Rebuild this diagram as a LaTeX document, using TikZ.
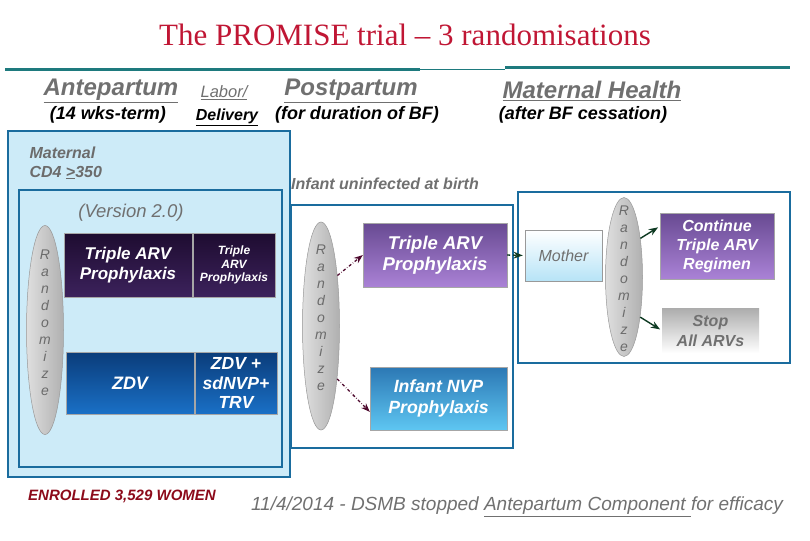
\documentclass[tikz,border=0pt]{standalone}
\usepackage{fontspec}
\setmainfont{Liberation Sans}
\newfontfamily\titlefont{Liberation Serif}
\usepackage{xcolor}
\usetikzlibrary{arrows.meta,positioning,shapes.geometric}
\definecolor{titlered}{RGB}{192,22,52}
\definecolor{tealline}{RGB}{30,122,126}
\definecolor{hdgray}{RGB}{112,112,112}
\definecolor{frameblue}{RGB}{26,108,158}
\definecolor{paleblue}{RGB}{205,235,248}
\definecolor{darkpurpA}{RGB}{30,12,48}
\definecolor{darkpurpB}{RGB}{60,34,92}
\definecolor{navyA}{RGB}{10,60,122}
\definecolor{navyB}{RGB}{26,112,198}
\definecolor{purpA}{RGB}{104,74,146}
\definecolor{purpB}{RGB}{170,130,214}
\definecolor{skyA}{RGB}{44,120,180}
\definecolor{skyB}{RGB}{94,198,242}
\definecolor{maroon}{RGB}{78,10,46}
\definecolor{darkgreen}{RGB}{14,58,34}
\definecolor{enrolred}{RGB}{140,10,26}
\newcommand\fsz[2]{\fontsize{#1}{#2}\selectfont}

\begin{document}
\begin{tikzpicture}[x=1pt,y=-1pt,>=Stealth,
  frame/.style={draw=frameblue,line width=2.6pt,inner sep=0pt},
  hdr/.style={text=hdgray,font=\fsz{24}{26}\bfseries\itshape},
  sub/.style={text=black,font=\fsz{18}{20}\bfseries\itshape},
  note/.style={text=hdgray,font=\fsz{16}{19}\bfseries\itshape,align=left},
  cell/.style={draw=gray!70,line width=0.4pt,text=white,align=center,inner sep=0pt,font=\bfseries\itshape},
  randnode/.style={ellipse,draw=gray!80,line width=0.5pt,left color=gray!25,right color=gray!62,
    inner sep=0pt,minimum width=37pt},
  randtext/.style={text=black!58,align=center,inner sep=0pt,font=\fsz{14}{17}\itshape},
  randarrow/.style={->,maroon,dash dot,line width=1.3pt},
  fwdarrow/.style={->,darkgreen,line width=1.4pt,shorten >=2pt}]
  \useasboundingbox (0,0) rectangle (810,540);

  % title and time line
  \node[text=titlered,font=\titlefont\fsz{31}{33}] (title) at (405,35) {The PROMISE trial – 3 randomisations};
  \draw[tealline,line width=3pt] (5,70) -- (420,70);
  \draw[tealline,line width=1.5pt] (420,69.5) -- (505,69.5);
  \draw[tealline,line width=3pt] (505,68) -- (790,68);

  % phase headings
  \node[hdr] (ante) at (111,91) {\underline{Antepartum}};
  \node[text=hdgray,font=\fsz{16.5}{18}\itshape] (labor) at (224,93) {\underline{Labor/}};
  \node[hdr] (post) at (351,91) {\underline{Postpartum}};
  \node[hdr] (mhealth) at (592,91) {\underline{Maternal Health}};
  \node[sub] (antesub) at (108,115) {(14 wks-term)};
  \node[sub,font=\fsz{16}{18}\bfseries\itshape] (deliv) at (227,117) {\underline{Delivery}};
  \node[sub] (postsub) at (357,115) {(for duration of BF)};
  \node[sub] (mhsub) at (583,115) {(after BF cessation)};

  % frames
  \node[frame,fill=paleblue,minimum width=282pt,minimum height=346pt] (antebox) at (149,304) {};
  \node[frame,fill=paleblue,minimum width=263pt,minimum height=277pt] (versbox) at (150.5,328.5) {};
  \node[frame,fill=white,minimum width=222pt,minimum height=243pt] (postbox) at (402,326.5) {};
  \node[frame,fill=white,minimum width=272pt,minimum height=171pt] (mhbox) at (654,277.5) {};

  \node[note,text=gray!85!black,anchor=west] (cd4) at (26,163) {Maternal\\CD4 \underline{>}350};
  \node[note] (uninf) at (385,184) {Infant uninfected at birth};
  \node[text=hdgray,font=\fsz{18.5}{20}\itshape] (version) at (131,213) {(Version 2.0)};

  % randomisation ellipses
  \foreach \nm/\x/\y/\h/\off in {lrand/45/330/209/-7, mrand/321/326/208/-8, rrand/624/277/159/2}{
    \node[randnode,minimum height=\h pt] (\nm) at (\x,\y) {};
    \node[randtext] (\nm txt) at (\x,\y+\off) {R\\a\\n\\d\\o\\m\\i\\z\\e};
  }

  % antepartum arms
  \node[cell,top color=darkpurpA,bottom color=darkpurpB,minimum width=128pt,minimum height=64pt,
    font=\fsz{17}{20}\bfseries\itshape] (tarvap) at (128,265) {Triple ARV\\Prophylaxis};
  \node[cell,top color=darkpurpA,bottom color=darkpurpB,minimum width=82pt,minimum height=64pt,
    font=\fsz{12}{13.5}\bfseries\itshape] (tarvdel) at (234,265) {Triple\\ARV\\Prophylaxis};
  \node[cell,top color=navyA,bottom color=navyB,minimum width=128pt,minimum height=62pt,
    font=\fsz{18}{20}\bfseries\itshape] (zdv) at (130,383) {ZDV};
  \node[cell,top color=navyA,bottom color=navyB,minimum width=82pt,minimum height=62pt,
    font=\fsz{17.5}{19.5}\bfseries\itshape] (zdvdel) at (236,383) {ZDV +\\sdNVP+\\TRV};

  % postpartum arms
  \node[cell,top color=purpA,bottom color=purpB,minimum width=144pt,minimum height=64pt,
    font=\fsz{18.5}{21}\bfseries\itshape] (tarvpp) at (435,255) {Triple ARV\\Prophylaxis};
  \node[cell,top color=skyA,bottom color=skyB,minimum width=137pt,minimum height=63pt,
    font=\fsz{17.7}{21}\bfseries\itshape] (infnvp) at (438.5,398.5) {Infant NVP\\Prophylaxis};
  \draw[randarrow] (mrand.72) -- (tarvpp.west);
  \draw[randarrow] (mrand.-73) -- (infnvp.191);

  % maternal health arms
  \node[cell,draw=gray!80,top color=white,bottom color=paleblue!80!skyB,text=hdgray,
    minimum width=77pt,minimum height=51pt,font=\fsz{16}{18}\itshape] (mother) at (563.5,255.5) {Mother};
  \node[cell,top color=purpA,bottom color=purpB,minimum width=114pt,minimum height=66pt,
    font=\fsz{16}{19}\bfseries\itshape] (contarv) at (717,246) {Continue\\Triple ARV\\Regimen};
  \node[cell,draw=none,top color=gray!65,bottom color=white,text=hdgray,minimum width=97pt,minimum height=45pt,
    font=\fsz{16}{20}\bfseries\itshape] (stoparv) at (710.5,330.5) {Stop\\All ARVs};
  \draw[fwdarrow,dashed] (tarvpp.east) -- (mother.west);
  \draw[fwdarrow] (rrand.67) -- (contarv.161);
  \draw[fwdarrow] (rrand.-68) -- (stoparv.west);

  % footer
  \node[text=enrolred,font=\fsz{15}{17}\bfseries\itshape] (enrol) at (122,496) {ENROLLED 3,529 WOMEN};
  \node[text=hdgray,font=\fsz{19}{21}\itshape] (dsmb) at (517,507) {11/4/2014 - DSMB stopped \underline{Antepartum Component }for efficacy};
\end{tikzpicture}
\end{document}
